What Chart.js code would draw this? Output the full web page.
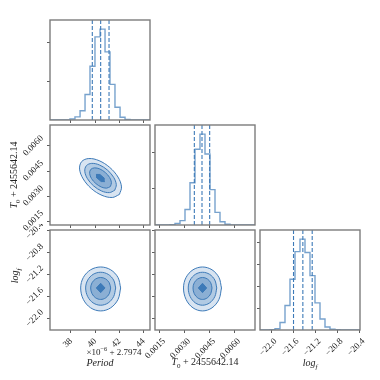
<!DOCTYPE html>
<html lang="en">
<head>
<meta charset="utf-8" />
<title>Corner plot</title>
<style>
  * { margin: 0; padding: 0; }
  body { width: 380px; height: 380px; background: #fff; position: relative; overflow: hidden; }
  .panel { position: absolute; }
  .lbl {
    position: absolute; z-index: 5; white-space: nowrap; line-height: 1;
    font-family: "Liberation Serif", serif; font-size: 10px; color: #222;
    transform: translate(-50%, -50%);
  }
  .lbl.rot { transform: translate(-50%, -50%) rotate(-90deg); }
  .lbl sub, .lbl sup { font-size: 70%; line-height: 0; }
</style>
</head>
<body>
<div class="lbl rot" style="left:14px; top:175px"><i>T</i><sub>0</sub> + 2455642.14</div>
<div class="lbl rot" style="left:15px; top:276px"><i>log</i><sub><i>f</i></sub></div>
<div class="lbl" style="left:114px; top:352px; font-size:9px">×10<sup>−6</sup> + 2.7974</div>
<div class="lbl" style="left:100px; top:363px"><i>Period</i></div>
<div class="lbl" style="left:205px; top:362px"><i>T</i><sub>0</sub> + 2455642.14</div>
<div class="lbl" style="left:310px; top:363px"><i>log</i><sub><i>f</i></sub></div>

<script src="https://cdn.jsdelivr.net/npm/chart.js/dist/chart.umd.min.js"></script>
<script>
// axis ranges and ticks (Period in 1e-6 + 2.7974, T0 in -2455642.14)
const periodRange = [36.27, 44.52];
const t0Range = [0.00126, 0.00726];
const logfRange = [-22.21, -20.39];
const periodTicks = [38, 40, 42, 44];
const t0Ticks = [0.0015, 0.0030, 0.0045, 0.0060];
const logfTicks = [-22.0, -21.6, -21.2, -20.8, -20.4];

// histograms (20 bins)
const periodEdges = [36.27, 36.68, 37.10, 37.51, 37.92, 38.33, 38.75, 39.16, 39.57, 39.98, 40.40,
  40.81, 41.22, 41.63, 42.05, 42.46, 42.87, 43.28, 43.70, 44.11, 44.52];
const periodCounts = [0, 0, 0, 0, 25, 80, 240, 660, 1390, 2150, 2350, 1760, 920, 330, 70, 15, 0, 0, 0, 0];
const t0Edges = [0.00126, 0.00156, 0.00186, 0.00216, 0.00246, 0.00276, 0.00306, 0.00336, 0.00366, 0.00396,
  0.00426, 0.00456, 0.00486, 0.00516, 0.00546, 0.00576, 0.00606, 0.00636, 0.00666, 0.00696, 0.00726];
const t0Counts = [0, 0, 0, 10, 40, 120, 430, 1170, 2100, 2520, 1970, 980, 350, 90, 20, 0, 0, 0, 0, 0];
const logfEdges = [-22.21, -22.119, -22.028, -21.937, -21.846, -21.755, -21.664, -21.573, -21.482, -21.391,
  -21.300, -21.209, -21.118, -21.027, -20.936, -20.845, -20.754, -20.663, -20.572, -20.481, -20.39];
const logfCounts = [0, 0, 8, 30, 170, 560, 1160, 1790, 2075, 1770, 1240, 620, 250, 70, 17, 4, 0, 0, 0, 0];
const hist1Ticks = [1000, 2000];
const hist2Ticks = [1000, 2000];
const hist3Ticks = [500, 1000, 1500, 2000];

// 16/50/84 quantiles
const periodQ = [39.76, 40.45, 41.14];
const t0Q = [0.00362, 0.00408, 0.00454];
const logfQ = [-21.60, -21.43, -21.26];

// contours, outer (2 sigma) to inner (0.5 sigma)
const periodT0Contours = [
  [[42.00, 0.003096], [42.17, 0.003545], [41.88, 0.004137], [41.20, 0.004714], [40.32, 0.005121], [39.47, 0.005249],
   [38.88, 0.005064], [38.71, 0.004615], [39.01, 0.004023], [39.68, 0.003446], [40.56, 0.003039], [41.41, 0.002911]],
  [[41.61, 0.003342], [41.74, 0.003679], [41.52, 0.004123], [41.01, 0.004556], [40.35, 0.004861], [39.71, 0.004957],
   [39.27, 0.004818], [39.14, 0.004481], [39.36, 0.004037], [39.87, 0.003604], [40.53, 0.003299], [41.17, 0.003203]],
  [[41.25, 0.003568], [41.34, 0.003802], [41.19, 0.004110], [40.83, 0.004410], [40.38, 0.004621], [39.94, 0.004688],
   [39.63, 0.004592], [39.54, 0.004358], [39.69, 0.004050], [40.05, 0.003750], [40.50, 0.003539], [40.94, 0.003472]],
  [[40.78, 0.003864], [40.74, 0.004075], [40.39, 0.004291], [40.10, 0.004296], [40.14, 0.004084], [40.49, 0.003867]],
];
const periodLogfContours = [
  [[42.10, -21.445], [41.88, -21.254], [41.275, -21.114], [40.45, -21.063], [39.625, -21.114], [39.02, -21.254],
   [38.80, -21.445], [39.02, -21.654], [39.625, -21.807], [40.45, -21.863], [41.275, -21.807], [41.88, -21.654]],
  [[41.69, -21.445], [41.52, -21.302], [41.07, -21.197], [40.45, -21.159], [39.83, -21.197], [39.38, -21.302],
   [39.21, -21.445], [39.38, -21.602], [39.83, -21.717], [40.45, -21.759], [41.07, -21.717], [41.52, -21.602]],
  [[41.275, -21.445], [41.16, -21.35], [40.86, -21.28], [40.45, -21.254], [40.04, -21.28], [39.74, -21.35],
   [39.625, -21.445], [39.74, -21.55], [40.04, -21.626], [40.45, -21.654], [40.86, -21.626], [41.16, -21.55]],
  [[40.81, -21.445], [40.45, -21.36], [40.09, -21.445], [40.45, -21.53]],
];
const t0LogfContours = [
  [[0.00525, -21.445], [0.005097, -21.254], [0.00468, -21.114], [0.00411, -21.063], [0.00354, -21.114], [0.003123, -21.254],
   [0.00297, -21.445], [0.003123, -21.654], [0.00354, -21.807], [0.00411, -21.863], [0.00468, -21.807], [0.005097, -21.654]],
  [[0.004965, -21.445], [0.00485, -21.302], [0.004538, -21.197], [0.00411, -21.159], [0.003682, -21.197], [0.00337, -21.302],
   [0.003255, -21.445], [0.00337, -21.602], [0.003682, -21.717], [0.00411, -21.759], [0.004538, -21.717], [0.00485, -21.602]],
  [[0.00468, -21.445], [0.004604, -21.35], [0.004395, -21.28], [0.00411, -21.254], [0.003825, -21.28], [0.003616, -21.35],
   [0.00354, -21.445], [0.003616, -21.55], [0.003825, -21.626], [0.00411, -21.654], [0.004395, -21.626], [0.004604, -21.55]],
  [[0.00436, -21.445], [0.00411, -21.36], [0.00386, -21.445], [0.00411, -21.53]],
];

// styles
const LINE = 'rgb(61,122,184)';
const HIST = 'rgba(61,122,184,0.7)';
const FILLS = ['rgb(216,228,241)', 'rgb(177,202,227)', 'rgb(139,175,212)', 'rgb(61,122,184)'];
const COLS = [50, 155, 260];
const ROWS = [20, 125, 230];
const SIZE = 100;
const PAD = { left: 48, top: 6, right: 6, bottom: 48 };
const FONT = { family: 'Liberation Serif', size: 9 };

const fmtPeriod = v => String(v);
const fmtT0 = v => v.toFixed(4);
const fmtLogf = v => v.toFixed(1).replace('-', '\u2212');

const frame = {
  id: 'frame',
  afterDraw(chart) {
    const { ctx, chartArea: a } = chart;
    ctx.save();
    ctx.strokeStyle = '#7c7c7c';
    ctx.lineWidth = 1.4;
    ctx.strokeRect(a.left, a.top, a.width, a.height);
    ctx.restore();
  },
};

function axis(dir, a) {
  return {
    type: 'linear',
    min: a.range[0],
    max: a.range[1],
    afterBuildTicks: s => { s.ticks = a.ticks.map(v => ({ value: v })); },
    afterFit: s => {
      if (dir === 'x') s.height = PAD.bottom; else s.width = PAD.left;
      s.paddingLeft = s.paddingRight = s.paddingTop = s.paddingBottom = 0;
    },
    grid: { drawOnChartArea: false, drawTicks: true, tickLength: 3, color: '#333', lineWidth: 0.8 },
    border: { display: false },
    ticks: {
      display: !!a.fmt,
      autoSkip: false,
      minRotation: 45,
      maxRotation: 45,
      padding: dir === 'x' ? 3 : 5,
      labelOffset: a.offset || 0,
      color: '#222',
      font: FONT,
      callback: v => (a.fmt ? a.fmt(v) : ''),
    },
  };
}

function makePanel(col, row, datasets, xAxis, yAxis) {
  const div = document.createElement('div');
  div.className = 'panel';
  div.style.left = (COLS[col] - PAD.left) + 'px';
  div.style.top = (ROWS[row] - PAD.top) + 'px';
  div.style.width = (SIZE + PAD.left + PAD.right) + 'px';
  div.style.height = (SIZE + PAD.top + PAD.bottom) + 'px';
  const canvas = document.createElement('canvas');
  div.appendChild(canvas);
  document.body.appendChild(div);
  return new Chart(canvas, {
    type: 'scatter',
    data: { datasets },
    options: {
      responsive: true,
      maintainAspectRatio: false,
      animation: false,
      layout: { autoPadding: false, padding: { left: 0, top: PAD.top, right: PAD.right, bottom: 0 } },
      plugins: { legend: { display: false }, tooltip: { enabled: false } },
      scales: { x: axis('x', xAxis), y: axis('y', yAxis) },
    },
    plugins: [frame],
  });
}

function histSets(edges, counts, quants) {
  const top = Math.max(...counts) * 1.1;
  const pts = [{ x: edges[0], y: 0 }];
  counts.forEach((c, i) => {
    pts.push({ x: edges[i], y: c });
    pts.push({ x: edges[i + 1], y: c });
  });
  pts.push({ x: edges[edges.length - 1], y: 0 });
  const sets = [{ data: pts, showLine: true, pointRadius: 0, borderColor: HIST, borderWidth: 1.4, tension: 0, order: 2 }];
  quants.forEach(q => sets.push({
    data: [{ x: q, y: 0 }, { x: q, y: top }],
    showLine: true, pointRadius: 0, borderColor: LINE, borderWidth: 1.1, borderDash: [4, 2], order: 1,
  }));
  return { sets, top };
}

function contourSets(levels) {
  return levels.map((pts, i) => {
    const data = pts.map(p => ({ x: p[0], y: p[1] }));
    data.push({ x: pts[0][0], y: pts[0][1] });
    return {
      data, showLine: true, pointRadius: 0,
      borderColor: LINE, borderWidth: 1, backgroundColor: FILLS[i],
      fill: 'shape', tension: i === levels.length - 1 ? 0 : 0.35,
      order: levels.length - i,
    };
  });
}

const pAxisLab = { range: periodRange, ticks: periodTicks, fmt: fmtPeriod, offset: 0 };
const pAxis = { range: periodRange, ticks: periodTicks };
const tAxisLabX = { range: t0Range, ticks: t0Ticks, fmt: fmtT0, offset: 5 };
const tAxisLabY = { range: t0Range, ticks: t0Ticks, fmt: fmtT0, offset: -9 };
const tAxis = { range: t0Range, ticks: t0Ticks };
const lAxisLabX = { range: logfRange, ticks: logfTicks, fmt: fmtLogf, offset: 4 };
const lAxisLabY = { range: logfRange, ticks: logfTicks, fmt: fmtLogf, offset: -7.5 };
const lAxis = { range: logfRange, ticks: logfTicks };

// diagonal histograms
const h1 = histSets(periodEdges, periodCounts, periodQ);
makePanel(0, 0, h1.sets, pAxis, { range: [0, h1.top], ticks: hist1Ticks });
const h2 = histSets(t0Edges, t0Counts, t0Q);
makePanel(1, 1, h2.sets, tAxis, { range: [0, h2.top], ticks: hist2Ticks });
const h3 = histSets(logfEdges, logfCounts, logfQ);
makePanel(2, 2, h3.sets, lAxisLabX, { range: [0, h3.top], ticks: hist3Ticks });

// 2D contours
makePanel(0, 1, contourSets(periodT0Contours), pAxis, tAxisLabY);
makePanel(0, 2, contourSets(periodLogfContours), pAxisLab, lAxisLabY);
makePanel(1, 2, contourSets(t0LogfContours), tAxisLabX, lAxis);
</script>
</body>
</html>
